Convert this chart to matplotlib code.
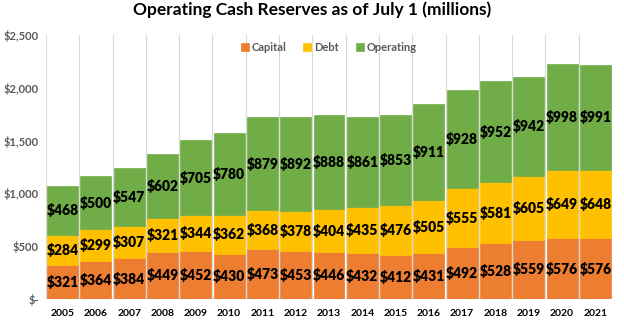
import matplotlib
matplotlib.use("Agg")
import matplotlib.pyplot as plt
import numpy as np
from matplotlib.ticker import FuncFormatter

years = ["2005", "2006", "2007", "2008", "2009", "2010", "2011", "2012", "2013",
         "2014", "2015", "2016", "2017", "2018", "2019", "2020", "2021"]
capital = [321, 364, 384, 449, 452, 430, 473, 453, 446, 432, 412, 431, 492, 528, 559, 576, 576]
debt = [284, 299, 307, 321, 344, 362, 368, 378, 404, 435, 476, 505, 555, 581, 605, 649, 648]
operating = [468, 500, 547, 602, 705, 780, 879, 892, 888, 861, 853, 911, 928, 952, 942, 998, 991]

series = [("Capital", capital, "#ED7D31"), ("Debt", debt, "#FFC000"), ("Operating", operating, "#70AD47")]

plt.rcParams['font.family'] = ['Lato', 'DejaVu Sans']

fig = plt.figure(figsize=(6.24, 3.25), dpi=100)
ax = fig.add_axes([46/624, 1-299/325, (612-46)/624, (299-35)/325])

x = np.arange(len(years))
bottom = np.zeros(len(years))
for name, vals, color in series:
    vals = np.array(vals, dtype=float)
    ax.bar(x, vals, bottom=bottom, width=0.93, color=color, label=name,
           edgecolor=color, linewidth=0.5, zorder=2)
    for xi, b, v in zip(x, bottom, vals):
        ax.text(xi, b + v/2, f"${int(v)}", ha="center", va="center",
                fontsize=10, fontweight="heavy", color="black", zorder=3)
    bottom += vals

ax.set_xlim(-0.5, len(years) - 0.5)
ax.set_ylim(0, 2500)
ax.set_yticks([0, 500, 1000, 1500, 2000, 2500])
ax.yaxis.set_major_formatter(FuncFormatter(lambda v, p: "$-" if v == 0 else f"${v:,.0f}"))
ax.set_xticks(x)
ax.set_xticklabels(years)
for lbl in ax.get_xticklabels():
    lbl.set_fontsize(7.5)
    lbl.set_fontweight("bold")
    lbl.set_color("#000000")
for lbl in ax.get_yticklabels():
    lbl.set_fontsize(8)
    lbl.set_fontweight("bold")
    lbl.set_color("#595959")
ax.tick_params(axis="both", length=0, pad=5)
ax.tick_params(axis="x", pad=7)

# vertical gridlines at category boundaries
for b in np.arange(-0.5, len(years) + 0.5, 1):
    ax.axvline(b, color="#D9D9D9", linewidth=0.8, zorder=1)

for s in ax.spines.values():
    s.set_visible(False)
ax.axhline(0, color="#D9D9D9", linewidth=0.8, zorder=1)

fig.suptitle("Operating Cash Reserves as of July 1 (millions)", y=0.995,
             fontsize=12.5, fontweight="bold")

leg = ax.legend(loc="upper center", bbox_to_anchor=(0.5, 1.0), ncol=3, frameon=False,
                fontsize=8, handlelength=0.7, handleheight=0.7, handletextpad=0.3,
                columnspacing=1.5, borderaxespad=0.2)
for t in leg.get_texts():
    t.set_color("#595959")
    t.set_fontweight("bold")

fig.savefig("out.png", dpi=100)
